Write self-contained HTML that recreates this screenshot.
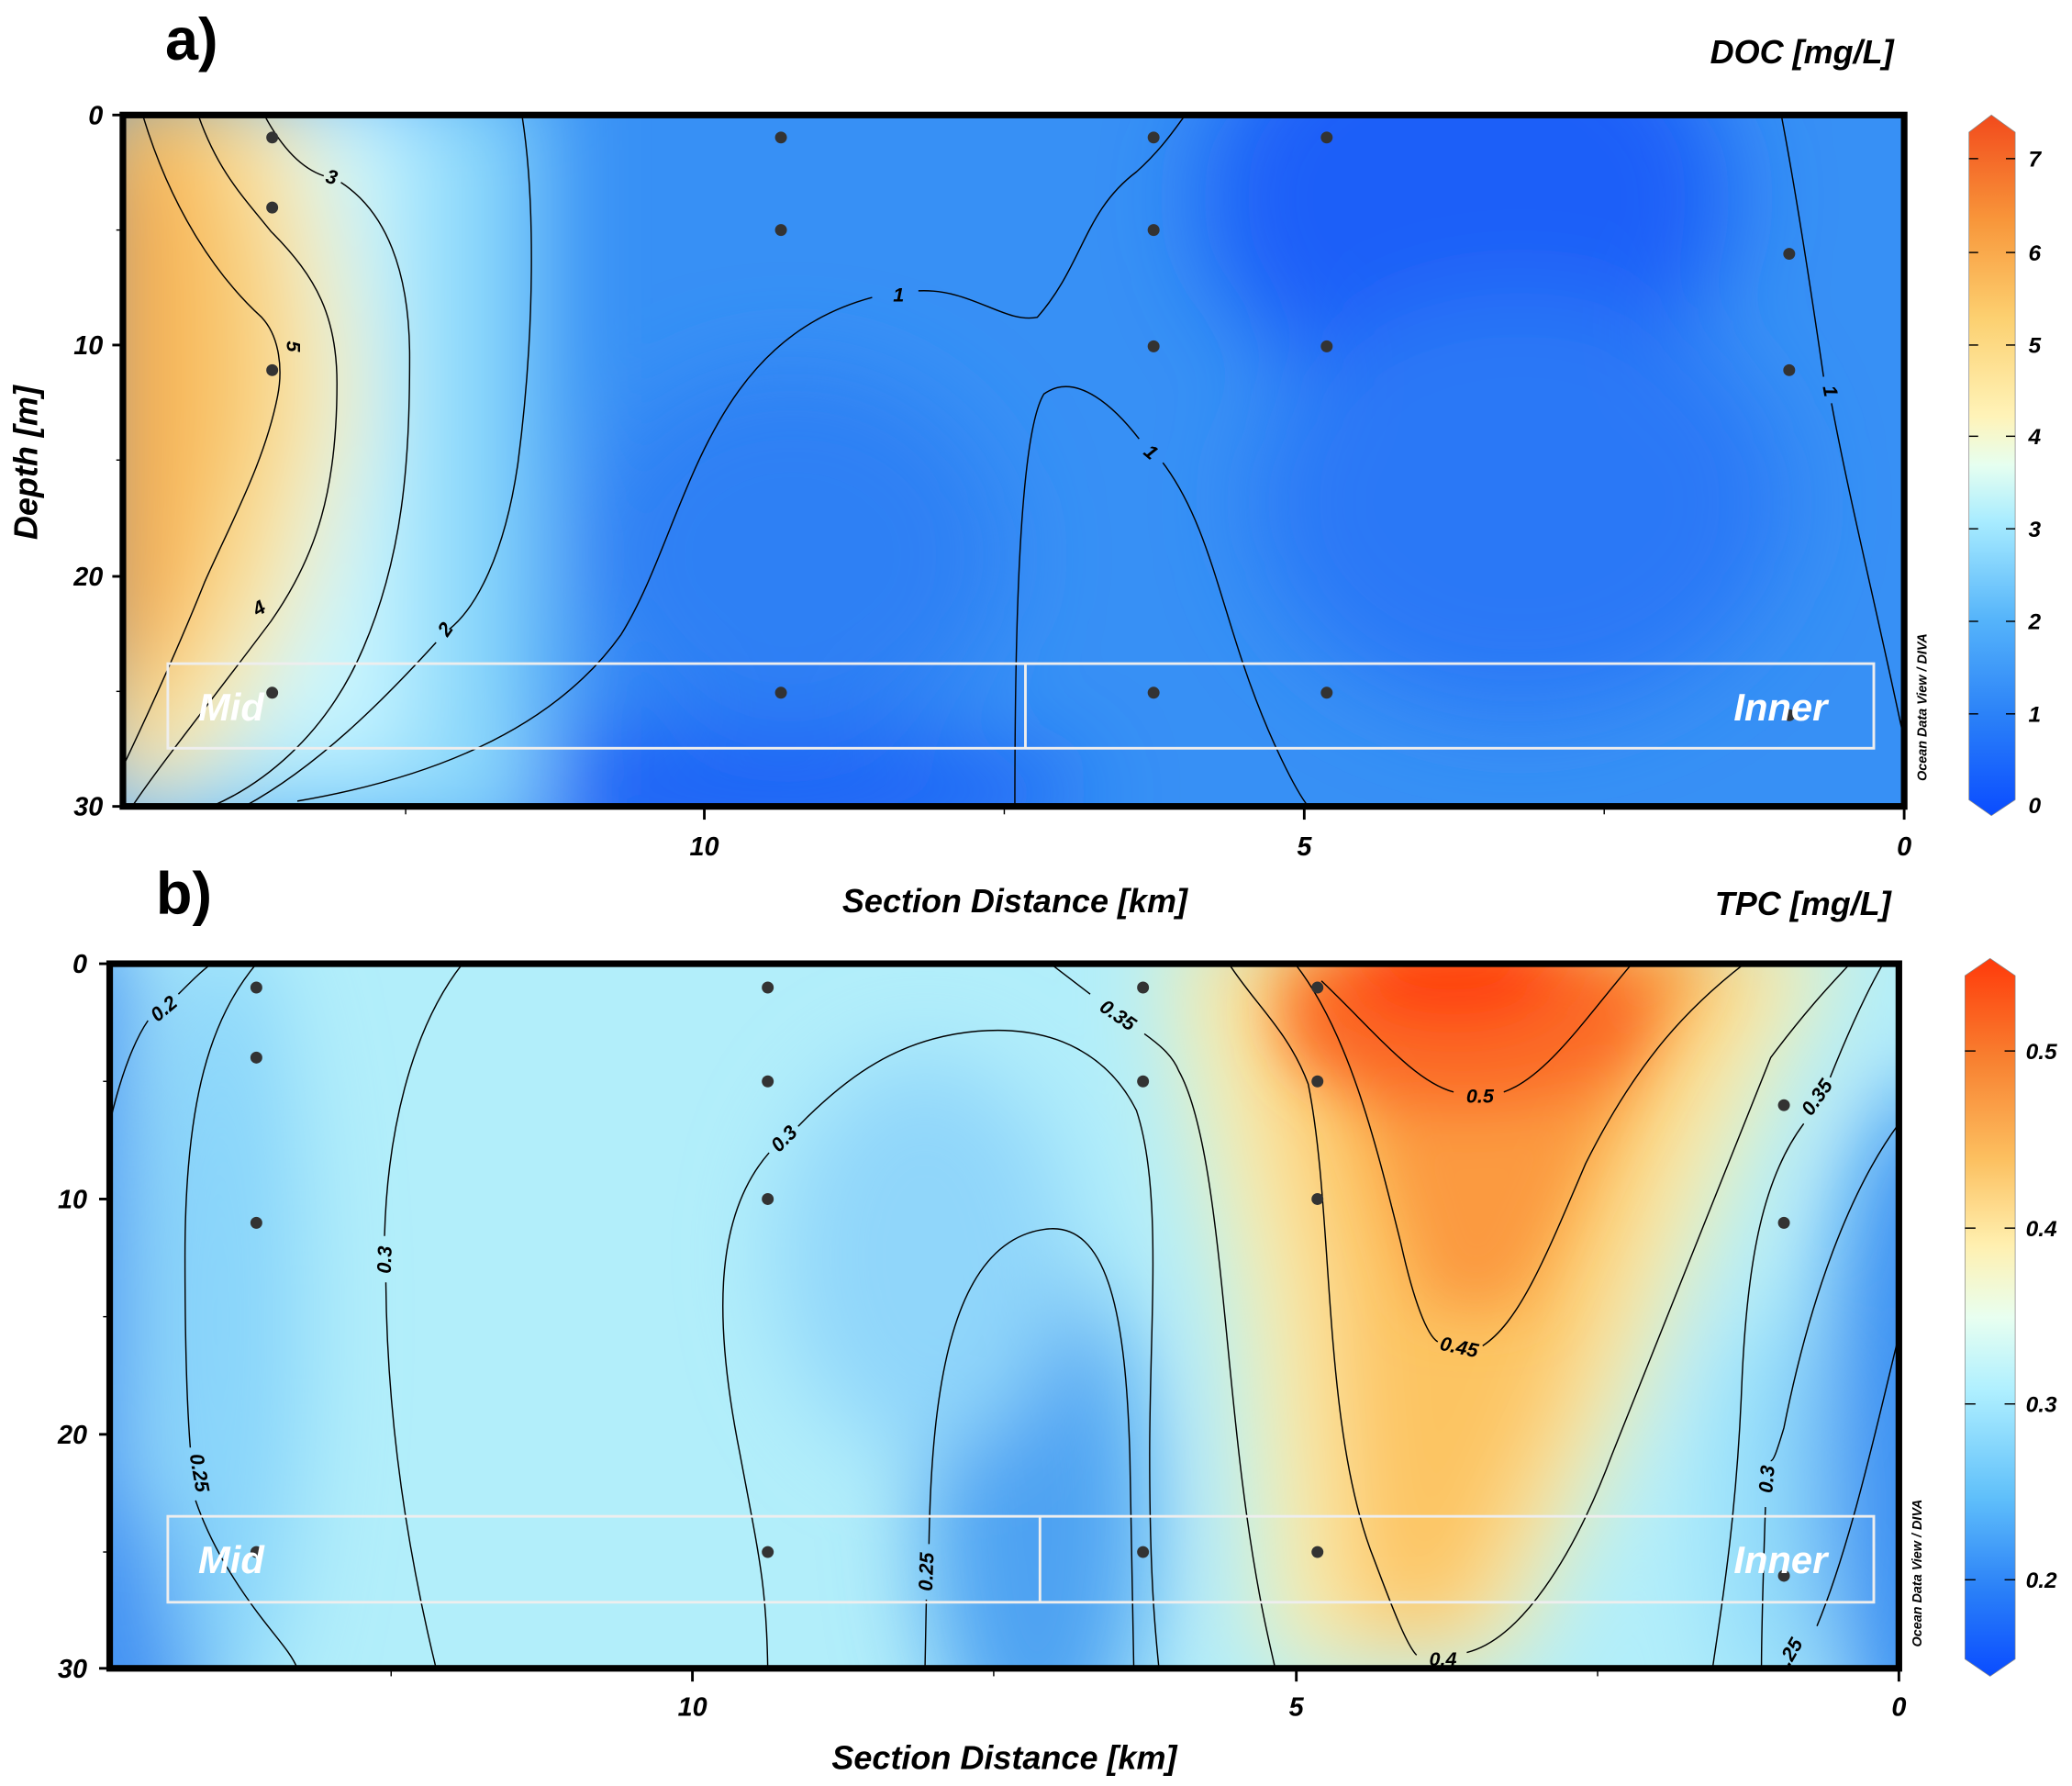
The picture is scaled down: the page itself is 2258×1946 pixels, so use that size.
<!DOCTYPE html>
<html><head><meta charset="utf-8"><style>html,body{margin:0;padding:0;background:#fff}svg{display:block}</style></head>
<body>
<svg width="2258" height="1946" viewBox="0 0 1568 1351" preserveAspectRatio="none" xmlns="http://www.w3.org/2000/svg" font-family="Liberation Sans, sans-serif">
<defs>
<filter id="bl" x="-50%" y="-50%" width="200%" height="200%"><feGaussianBlur stdDeviation="35"/></filter>
<filter id="bl2" x="-50%" y="-50%" width="200%" height="200%"><feGaussianBlur stdDeviation="22"/></filter>
<clipPath id="ca"><rect x="93" y="87" width="1348" height="523"/></clipPath>
<clipPath id="cb"><rect x="83" y="729" width="1354" height="533"/></clipPath>
<linearGradient id="cbg" x1="0" y1="1" x2="0" y2="0">
<stop offset="0" stop-color="#0a4cff"/><stop offset="0.14" stop-color="#2a80f8"/><stop offset="0.28" stop-color="#55b4fa"/><stop offset="0.42" stop-color="#a8ecff"/><stop offset="0.5" stop-color="#e6fff0"/><stop offset="0.57" stop-color="#fff3b8"/><stop offset="0.71" stop-color="#fcd070"/><stop offset="0.85" stop-color="#f8963a"/><stop offset="1" stop-color="#f24a1c"/>
</linearGradient>
<linearGradient id="cbg2" x1="0" y1="1" x2="0" y2="0">
<stop offset="0" stop-color="#0a4cff"/><stop offset="0.12" stop-color="#2a80f8"/><stop offset="0.25" stop-color="#60c0fa"/><stop offset="0.4" stop-color="#b0f0ff"/><stop offset="0.5" stop-color="#e8fff0"/><stop offset="0.6" stop-color="#fff0b0"/><stop offset="0.72" stop-color="#fcc060"/><stop offset="0.86" stop-color="#f88030"/><stop offset="1" stop-color="#ff3a0a"/>
</linearGradient>
</defs>

<!-- Panel a field -->
<g clip-path="url(#ca)">
<rect x="93" y="87" width="1348" height="523" fill="#3790f5"/>
<g filter="url(#bl)">
<ellipse cx="1110" cy="150" rx="200" ry="160" fill="#1a5ef8"/>
<ellipse cx="1150" cy="380" rx="200" ry="160" fill="#2a78f6"/>
<ellipse cx="520" cy="600" rx="300" ry="50" fill="#1c62f6"/>
<ellipse cx="600" cy="420" rx="160" ry="140" fill="#2f80f4"/>
<rect x="60" y="60" width="350" height="580" fill="#8ad8fb"/>
<rect x="60" y="60" width="250" height="520" fill="#c8f6ff"/>
<path d="M60,60 L220,60 L250,180 L270,300 L230,460 L150,600 L60,600 Z" fill="#fbe9a8"/>
<path d="M60,60 L160,60 L200,200 L205,320 L160,470 L60,600 Z" fill="#f8c266"/>
<rect x="60" y="120" width="60" height="380" fill="#f6a444"/>
</g>
</g>
<g fill="none" stroke="#000" stroke-width="1" clip-path="url(#ca)">
<path d="M108,87 C130,160 165,210 198,240 C212,255 214,280 210,300 C200,350 175,395 155,440 C135,490 112,540 93,580"/>
<path d="M150,87 C165,130 185,150 205,175 C240,210 255,240 255,290 C255,370 240,420 205,470 C160,530 120,580 100,610"/>
<path d="M200,87 C215,115 230,128 245,133 M258,138 C292,160 310,205 310,270 C310,350 305,420 275,490 C245,560 195,595 160,610"/>
<path d="M395,87 C405,150 405,250 392,350 C382,420 360,460 340,476 M330,486 C290,530 240,580 185,610"/>
<path d="M225,606 C330,588 420,550 470,480 C520,400 530,260 660,225 M695,220 C735,218 760,245 785,240 C820,200 820,160 860,130 C880,112 890,96 897,87"/>
<path d="M768,610 C768,500 770,330 790,298 C815,280 845,310 862,332 M880,350 C910,390 920,440 940,500 C960,560 982,600 990,610"/>
<path d="M1348,87 C1360,150 1372,230 1380,285 M1386,305 C1400,380 1420,460 1441,560"/>
</g>
<g font-size="15" font-weight="bold" font-style="italic" fill="#000" text-anchor="middle">
<text x="251" y="139" transform="rotate(15 251 134)">3</text>
<text x="217" y="262" transform="rotate(90 217 262)">5</text>
<text x="196" y="465" transform="rotate(-30 196 460)">4</text>
<text x="337" y="481" transform="rotate(-55 337 476)">2</text>
<text x="680" y="228">1</text>
<text x="871" y="347" transform="rotate(40 871 342)">1</text>
<text x="1384" y="300" transform="rotate(80 1384 296)">1</text>
</g>
<g fill="#333">
<circle cx="206" cy="104" r="4.5"/><circle cx="206" cy="157" r="4.5"/><circle cx="206" cy="280" r="4.5"/><circle cx="206" cy="524" r="4.5"/>
<circle cx="591" cy="104" r="4.5"/><circle cx="591" cy="174" r="4.5"/><circle cx="591" cy="524" r="4.5"/>
<circle cx="873" cy="104" r="4.5"/><circle cx="873" cy="174" r="4.5"/><circle cx="873" cy="262" r="4.5"/><circle cx="873" cy="524" r="4.5"/>
<circle cx="1004" cy="104" r="4.5"/><circle cx="1004" cy="262" r="4.5"/><circle cx="1004" cy="524" r="4.5"/>
<circle cx="1354" cy="192" r="4.5"/><circle cx="1354" cy="280" r="4.5"/><circle cx="1354" cy="541" r="4.5"/>
</g>
<g fill="none" stroke="#eee" stroke-width="2"><rect x="127" y="502" width="1291" height="64"/><line x1="776" y1="502" x2="776" y2="566"/></g>
<g fill="#fff" font-size="29" font-weight="bold" font-style="italic"><text x="150" y="545">Mid</text><text x="1312" y="545">Inner</text></g>
<rect x="93" y="87" width="1348" height="523" fill="none" stroke="#000" stroke-width="5"/>
<g stroke="#000" stroke-width="2">
<line x1="85" y1="87" x2="93" y2="87"/><line x1="85" y1="261" x2="93" y2="261"/><line x1="85" y1="436" x2="93" y2="436"/><line x1="85" y1="610" x2="93" y2="610"/>
<line x1="88" y1="174" x2="93" y2="174" stroke-width="1"/><line x1="88" y1="348" x2="93" y2="348" stroke-width="1"/><line x1="88" y1="523" x2="93" y2="523" stroke-width="1"/>
<line x1="533" y1="610" x2="533" y2="620"/><line x1="987" y1="610" x2="987" y2="620"/><line x1="1441" y1="610" x2="1441" y2="620"/>
<line x1="307" y1="610" x2="307" y2="616" stroke-width="1"/><line x1="760" y1="610" x2="760" y2="616" stroke-width="1"/><line x1="1214" y1="610" x2="1214" y2="616" stroke-width="1"/>
</g>
<g font-size="20" font-weight="bold" font-style="italic" fill="#000">
<g text-anchor="end"><text x="78" y="94">0</text><text x="78" y="268">10</text><text x="78" y="443">20</text><text x="78" y="617">30</text></g>
<g text-anchor="middle"><text x="533" y="647">10</text><text x="987" y="647">5</text><text x="1441" y="647">0</text></g>
</g>
<text x="125" y="45" font-size="45" font-weight="bold">a)</text>
<text x="1433" y="48" font-size="25" font-weight="bold" font-style="italic" text-anchor="end">DOC [mg/L]</text>
<text x="768" y="690" font-size="25" font-weight="bold" font-style="italic" text-anchor="middle">Section Distance [km]</text>
<text x="28" y="350" font-size="25" font-weight="bold" font-style="italic" text-anchor="middle" transform="rotate(-90 28 350)">Depth [m]</text>
<text x="1458" y="535" font-size="10" font-weight="bold" font-style="italic" text-anchor="middle" transform="rotate(-90 1458 535)">Ocean Data View / DIVA</text>
<path d="M1490,100 L1507,87 L1525,100 L1525,605 L1507,617 L1490,605 Z" fill="url(#cbg)" stroke="#888" stroke-width="0.5"/>
<g stroke="#000" stroke-width="1">
<line x1="1490" y1="120" x2="1497" y2="120"/><line x1="1518" y1="120" x2="1525" y2="120"/>
<line x1="1490" y1="191" x2="1497" y2="191"/><line x1="1518" y1="191" x2="1525" y2="191"/>
<line x1="1490" y1="261" x2="1497" y2="261"/><line x1="1518" y1="261" x2="1525" y2="261"/>
<line x1="1490" y1="330" x2="1497" y2="330"/><line x1="1518" y1="330" x2="1525" y2="330"/>
<line x1="1490" y1="400" x2="1497" y2="400"/><line x1="1518" y1="400" x2="1525" y2="400"/>
<line x1="1490" y1="470" x2="1497" y2="470"/><line x1="1518" y1="470" x2="1525" y2="470"/>
<line x1="1490" y1="540" x2="1497" y2="540"/><line x1="1518" y1="540" x2="1525" y2="540"/>
</g>
<g font-size="17" font-weight="bold" font-style="italic"><text x="1535" y="126">7</text><text x="1535" y="197">6</text><text x="1535" y="267">5</text><text x="1535" y="336">4</text><text x="1535" y="406">3</text><text x="1535" y="476">2</text><text x="1535" y="546">1</text><text x="1535" y="615">0</text></g>

<!-- Panel b field -->
<g clip-path="url(#cb)">
<rect x="83" y="729" width="1354" height="533" fill="#b2eefa"/>
<g filter="url(#bl)">
<rect x="20" y="700" width="75" height="600" fill="#3a8cf2"/>
<ellipse cx="100" cy="1250" rx="60" ry="110" fill="#3a8cf2"/>
<ellipse cx="170" cy="1000" rx="60" ry="300" fill="#88d4fa"/>
<ellipse cx="785" cy="1150" rx="85" ry="200" fill="#4ea2f2"/>
<ellipse cx="700" cy="950" rx="110" ry="150" fill="#90d6fa"/>
<ellipse cx="1460" cy="1100" rx="80" ry="280" fill="#3a90f2"/>
<ellipse cx="1340" cy="1150" rx="40" ry="160" fill="#90dafa"/>
<path d="M880,700 L1400,700 L1330,840 L1230,1080 L1140,1262 L960,1262 L940,1000 L900,820 Z" fill="#fbf0b0"/>
<path d="M930,700 L1340,700 L1260,850 L1190,1060 L1110,1240 L1020,1240 L1000,980 L960,800 Z" fill="#fcc462"/>
</g>
<g filter="url(#bl2)">
<path d="M970,720 L1290,720 L1210,860 L1150,990 L1080,990 L1040,860 Z" fill="#fb9a40"/>
<ellipse cx="1110" cy="770" rx="140" ry="70" fill="#fb6a25"/>
<ellipse cx="1100" cy="740" rx="80" ry="35" fill="#ff4010"/>
</g>
</g>
<g fill="none" stroke="#000" stroke-width="1" clip-path="url(#cb)">
<path d="M83,850 C92,810 103,785 112,772 M135,752 C145,742 152,735 160,729"/>
<path d="M194,729 C160,770 140,830 140,950 C140,1030 142,1070 144,1095 M148,1135 C160,1170 180,1200 195,1220 C210,1240 220,1250 225,1262"/>
<path d="M350,729 C310,780 293,860 291,935 M292,970 C293,1080 310,1180 330,1262"/>
<path d="M581,1262 C580,1200 575,1180 560,1100 C540,1000 540,920 582,872 M604,852 C640,815 680,785 740,780 C800,775 840,800 860,840 C880,900 870,1000 870,1100 C870,1200 875,1240 877,1262"/>
<path d="M700,1262 L701,1210 M703,1168 C705,1050 720,940 790,930 C840,922 852,1000 855,1100 C857,1200 858,1240 858,1262"/>
<path d="M795,729 L825,752 M866,782 C880,792 888,800 892,810 C920,860 925,1000 940,1120 C950,1200 960,1240 965,1262"/>
<path d="M930,729 C950,760 975,780 990,820 C1010,920 1000,1080 1040,1180 C1055,1220 1065,1245 1072,1252 M1110,1250 C1150,1240 1190,1180 1220,1100 C1260,1000 1300,900 1340,800 C1370,760 1390,740 1400,729"/>
<path d="M980,729 C1020,780 1040,860 1060,940 C1070,985 1080,1010 1088,1015 M1122,1018 C1150,1000 1170,950 1200,880 C1240,800 1280,760 1320,729"/>
<path d="M1000,742 C1040,780 1070,818 1100,826 M1138,826 C1170,815 1200,770 1235,729"/>
<path d="M1425,729 C1410,755 1395,790 1385,815 M1365,850 C1335,890 1322,950 1318,1050 C1314,1150 1302,1220 1296,1262"/>
<path d="M1437,850 C1400,900 1370,980 1350,1080 C1344,1100 1342,1105 1340,1105 M1336,1140 C1334,1200 1333,1240 1333,1262"/>
<path d="M1437,1010 C1420,1080 1400,1170 1375,1230"/>
</g>
<g font-size="15" font-weight="bold" font-style="italic" fill="#000" text-anchor="middle">
<text x="124" y="768" transform="rotate(-40 124 763)">0.2</text>
<text x="146" y="1115" transform="rotate(80 146 1115)">0.25</text>
<text x="292" y="957" transform="rotate(-88 292 953)">0.3</text>
<text x="594" y="866" transform="rotate(-45 594 862)">0.3</text>
<text x="702" y="1193" transform="rotate(-88 702 1189)">0.25</text>
<text x="846" y="773" transform="rotate(35 846 768)">0.35</text>
<text x="1120" y="834">0.5</text>
<text x="1104" y="1024" transform="rotate(12 1104 1020)">0.45</text>
<text x="1092" y="1260">0.4</text>
<text x="1375" y="835" transform="rotate(-55 1375 830)">0.35</text>
<text x="1338" y="1123" transform="rotate(-85 1338 1119)">0.3</text>
<text x="1356" y="1254" transform="rotate(-60 1356 1250)">.25</text>
</g>
<g fill="#333">
<circle cx="194" cy="747" r="4.5"/><circle cx="194" cy="800" r="4.5"/><circle cx="194" cy="925" r="4.5"/><circle cx="194" cy="1174" r="4.5"/>
<circle cx="581" cy="747" r="4.5"/><circle cx="581" cy="818" r="4.5"/><circle cx="581" cy="907" r="4.5"/><circle cx="581" cy="1174" r="4.5"/>
<circle cx="865" cy="747" r="4.5"/><circle cx="865" cy="818" r="4.5"/><circle cx="865" cy="1174" r="4.5"/>
<circle cx="997" cy="747" r="4.5"/><circle cx="997" cy="818" r="4.5"/><circle cx="997" cy="907" r="4.5"/><circle cx="997" cy="1174" r="4.5"/>
<circle cx="1350" cy="836" r="4.5"/><circle cx="1350" cy="925" r="4.5"/><circle cx="1350" cy="1192" r="4.5"/>
</g>
<g fill="none" stroke="#eee" stroke-width="2"><rect x="127" y="1147" width="1291" height="65"/><line x1="787" y1="1147" x2="787" y2="1212"/></g>
<g fill="#fff" font-size="29" font-weight="bold" font-style="italic"><text x="150" y="1190">Mid</text><text x="1312" y="1190">Inner</text></g>
<rect x="83" y="729" width="1354" height="533" fill="none" stroke="#000" stroke-width="5"/>
<g stroke="#000" stroke-width="2">
<line x1="75" y1="729" x2="83" y2="729"/><line x1="75" y1="907" x2="83" y2="907"/><line x1="75" y1="1085" x2="83" y2="1085"/><line x1="75" y1="1262" x2="83" y2="1262"/>
<line x1="78" y1="818" x2="83" y2="818" stroke-width="1"/><line x1="78" y1="996" x2="83" y2="996" stroke-width="1"/><line x1="78" y1="1174" x2="83" y2="1174" stroke-width="1"/>
<line x1="524" y1="1262" x2="524" y2="1272"/><line x1="981" y1="1262" x2="981" y2="1272"/><line x1="1437" y1="1262" x2="1437" y2="1272"/>
<line x1="296" y1="1262" x2="296" y2="1268" stroke-width="1"/><line x1="752" y1="1262" x2="752" y2="1268" stroke-width="1"/><line x1="1209" y1="1262" x2="1209" y2="1268" stroke-width="1"/>
</g>
<g font-size="20" font-weight="bold" font-style="italic" fill="#000">
<g text-anchor="end"><text x="66" y="736">0</text><text x="66" y="914">10</text><text x="66" y="1092">20</text><text x="66" y="1269">30</text></g>
<g text-anchor="middle"><text x="524" y="1298">10</text><text x="981" y="1298">5</text><text x="1437" y="1298">0</text></g>
</g>
<text x="118" y="691" font-size="45" font-weight="bold">b)</text>
<text x="1431" y="692" font-size="25" font-weight="bold" font-style="italic" text-anchor="end">TPC [mg/L]</text>
<text x="760" y="1338" font-size="25" font-weight="bold" font-style="italic" text-anchor="middle">Section Distance [km]</text>
<text x="1454" y="1190" font-size="10" font-weight="bold" font-style="italic" text-anchor="middle" transform="rotate(-90 1454 1190)">Ocean Data View / DIVA</text>
<path d="M1487,738 L1506,725 L1525,738 L1525,1255 L1506,1268 L1487,1255 Z" fill="url(#cbg2)" stroke="#888" stroke-width="0.5"/>
<g stroke="#000" stroke-width="1">
<line x1="1487" y1="795" x2="1495" y2="795"/><line x1="1517" y1="795" x2="1525" y2="795"/>
<line x1="1487" y1="929" x2="1495" y2="929"/><line x1="1517" y1="929" x2="1525" y2="929"/>
<line x1="1487" y1="1062" x2="1495" y2="1062"/><line x1="1517" y1="1062" x2="1525" y2="1062"/>
<line x1="1487" y1="1195" x2="1495" y2="1195"/><line x1="1517" y1="1195" x2="1525" y2="1195"/>
</g>
<g font-size="17" font-weight="bold" font-style="italic"><text x="1533" y="801">0.5</text><text x="1533" y="935">0.4</text><text x="1533" y="1068">0.3</text><text x="1533" y="1201">0.2</text></g>
</svg>
</body></html>
